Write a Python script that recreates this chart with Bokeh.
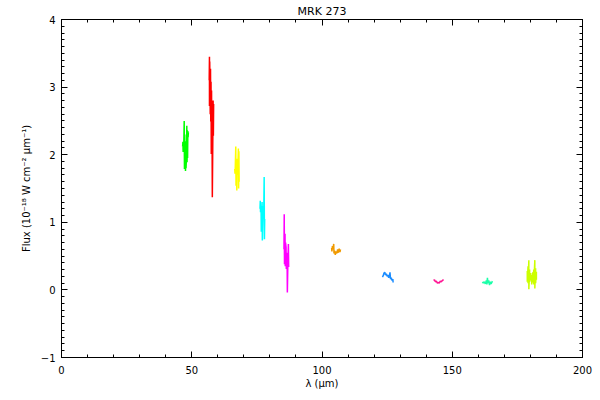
from bokeh.plotting import figure
from bokeh.models import Range1d, LinearAxis, SingleIntervalTicker, CustomJSTickFormatter
from bokeh.embed import file_html
from bokeh.resources import INLINE

# ---- data (wavelength in micron, flux in 1e-18 W cm^-2 um^-1) ----
green_wl = [46.5, 46.6, 46.7, 46.8, 46.9, 47.1, 47.2, 47.3, 47.4, 47.5, 47.6, 47.7, 47.8, 48.0, 48.1, 48.2, 48.3, 48.4, 48.5, 48.6, 48.7]
green_flux = [2.12, 2.19, 2.04, 2.17, 2.06, 2.50, 1.79, 2.30, 1.82, 2.20, 1.76, 2.12, 1.80, 1.98, 2.43, 1.89, 2.36, 1.95, 2.35, 2.26, 2.33]

red_wl = [56.7, 56.8, 56.8, 56.9, 57.1, 57.2, 57.3, 57.4, 57.5, 57.6, 57.7, 57.8, 57.9, 58.1, 58.2, 58.3, 58.4]
red_flux = [3.10, 3.45, 2.72, 3.38, 2.60, 3.27, 2.49, 3.08, 2.01, 2.95, 2.05, 2.28, 1.37, 2.30, 2.80, 2.28, 2.75]

yellow_wl = [66.5, 66.6, 66.7, 66.9, 67.0, 67.2, 67.3, 67.4, 67.6, 67.9, 68.0, 68.1, 68.2]
yellow_flux = [1.79, 1.72, 1.80, 2.12, 1.54, 1.94, 1.47, 1.85, 1.70, 2.09, 1.50, 2.05, 1.60]

cyan_wl = [76.2, 76.3, 76.4, 76.6, 76.7, 76.9, 77.0, 77.1, 77.3, 77.5, 77.6, 77.8, 77.9, 78.0]
cyan_flux = [1.20, 1.32, 1.15, 1.24, 0.86, 1.18, 1.30, 0.73, 1.10, 1.24, 1.05, 1.67, 0.75, 1.05]

magenta_wl = [85.4, 85.5, 85.6, 85.8, 85.9, 86.0, 86.2, 86.3, 86.4, 86.6, 86.7, 86.9, 87.1, 87.2]
magenta_flux = [0.60, 1.12, 0.38, 0.83, 0.35, 0.70, 0.63, 0.31, 0.55, 0.48, -0.04, 0.40, 0.68, 0.34]

orange_wl = [103.7, 103.8, 104.0, 104.2, 104.5, 104.6, 104.8, 105.1, 105.4, 105.7, 106.0, 106.3, 106.6, 106.9, 107.1]
orange_flux = [0.62, 0.57, 0.65, 0.60, 0.68, 0.54, 0.58, 0.52, 0.57, 0.54, 0.60, 0.55, 0.61, 0.56, 0.60]

blue_wl = [123.2, 123.5, 123.8, 124.1, 124.4, 124.7, 125.0, 125.3, 125.6, 125.9, 126.1, 126.3, 126.6, 126.9, 127.2, 127.3]
blue_flux = [0.19, 0.21, 0.25, 0.26, 0.22, 0.24, 0.20, 0.22, 0.18, 0.21, 0.26, 0.16, 0.18, 0.14, 0.16, 0.11]

pink_wl = [142.8, 143.2, 143.5, 143.9, 144.3, 144.7, 145.0, 145.4, 145.8, 146.2, 146.7]
pink_flux = [0.14, 0.15, 0.12, 0.13, 0.10, 0.11, 0.10, 0.13, 0.12, 0.14, 0.15]

teal_wl = [161.6, 161.9, 162.3, 162.7, 163.1, 163.3, 163.5, 163.7, 164.0, 164.3, 164.6, 164.9, 165.2, 165.4]
teal_flux = [0.12, 0.10, 0.12, 0.09, 0.14, 0.08, 0.18, 0.10, 0.14, 0.07, 0.12, 0.09, 0.11, 0.13]

lime_wl = [178.8, 178.8, 179.1, 179.1, 179.4, 179.4, 179.7, 179.7, 180.1, 180.1, 180.5, 180.5, 180.9, 180.9, 181.3, 181.3, 181.7, 181.7, 182.0, 182.0, 182.3, 182.3]
lime_flux = [0.28, 0.12, 0.35, 0.10, 0.44, 0.01, 0.30, 0.12, 0.25, 0.14, 0.22, 0.08, 0.26, 0.11, 0.30, 0.08, 0.44, 0.02, 0.32, 0.10, 0.27, 0.15]

segments = [
    (green_wl, green_flux, "#00ff00"),
    (red_wl, red_flux, "#ff0000"),
    (yellow_wl, yellow_flux, "#ffff00"),
    (cyan_wl, cyan_flux, "#00ffff"),
    (magenta_wl, magenta_flux, "#ff00ff"),
    (orange_wl, orange_flux, "#f09a00"),
    (blue_wl, blue_flux, "#1a8cff"),
    (pink_wl, pink_flux, "#ff1493"),
    (teal_wl, teal_flux, "#1affa8"),
    (lime_wl, lime_flux, "#ccff00"),
]

title_text = "MRK 273"
x_label = "λ (μm)"
y_label = "Flux (10⁻¹⁸ W cm⁻² μm⁻¹)"

FONT = "DejaVu Sans"

p = figure(width=600, height=400, output_backend="svg", toolbar_location=None,
           x_range=Range1d(0, 200), y_range=Range1d(-1, 4),
           min_border_left=61, min_border_right=18, min_border_top=0, min_border_bottom=43,
           title=title_text)
p.grid.visible = False
p.outline_line_color = None
p.background_fill_color = "white"
p.border_fill_color = "white"

p.title.align = "center"
p.title.text_font = FONT
p.title.text_font_size = "11px"
p.title.text_font_style = "normal"
p.title.text_color = "black"
p.title.standoff = 4
p.title.offset = 0

for wl, fl, col in segments:
    p.line(wl, fl, line_color=col, line_width=1.5)

def style_axis(ax, labels=True):
    ax.axis_line_color = "black"
    ax.axis_line_width = 1
    ax.major_tick_line_color = "black"
    ax.minor_tick_line_color = "black"
    ax.major_tick_in = 6
    ax.major_tick_out = 0
    ax.minor_tick_in = 3
    ax.minor_tick_out = 0
    ax.major_label_text_font = FONT
    ax.major_label_text_font_size = "10px"
    ax.major_label_text_color = "black"
    ax.axis_label_text_font = FONT
    ax.axis_label_text_font_size = "10px"
    ax.axis_label_text_font_style = "normal"
    ax.axis_label_text_color = "black"
    if not labels:
        ax.formatter = CustomJSTickFormatter(code="return ''")
        ax.major_label_text_font_size = "1px"
        ax.major_label_standoff = 0

xt = dict(interval=50, num_minor_ticks=5)
yt = dict(interval=1, num_minor_ticks=10)

xb = p.xaxis[0]
xb.ticker = SingleIntervalTicker(**xt)
style_axis(xb)
xb.axis_label = x_label
xb.major_label_standoff = 8
xb.axis_label_standoff = 1

yl = p.yaxis[0]
yl.ticker = SingleIntervalTicker(**yt)
style_axis(yl)
yl.axis_label = y_label
yl.major_label_standoff = 6
yl.axis_label_standoff = 6

xa = LinearAxis(ticker=SingleIntervalTicker(**xt))
style_axis(xa, labels=False)
p.add_layout(xa, "above")

yr = LinearAxis(ticker=SingleIntervalTicker(**yt))
style_axis(yr, labels=False)
p.add_layout(yr, "right")

open("out.html", "w").write(file_html(p, INLINE))
